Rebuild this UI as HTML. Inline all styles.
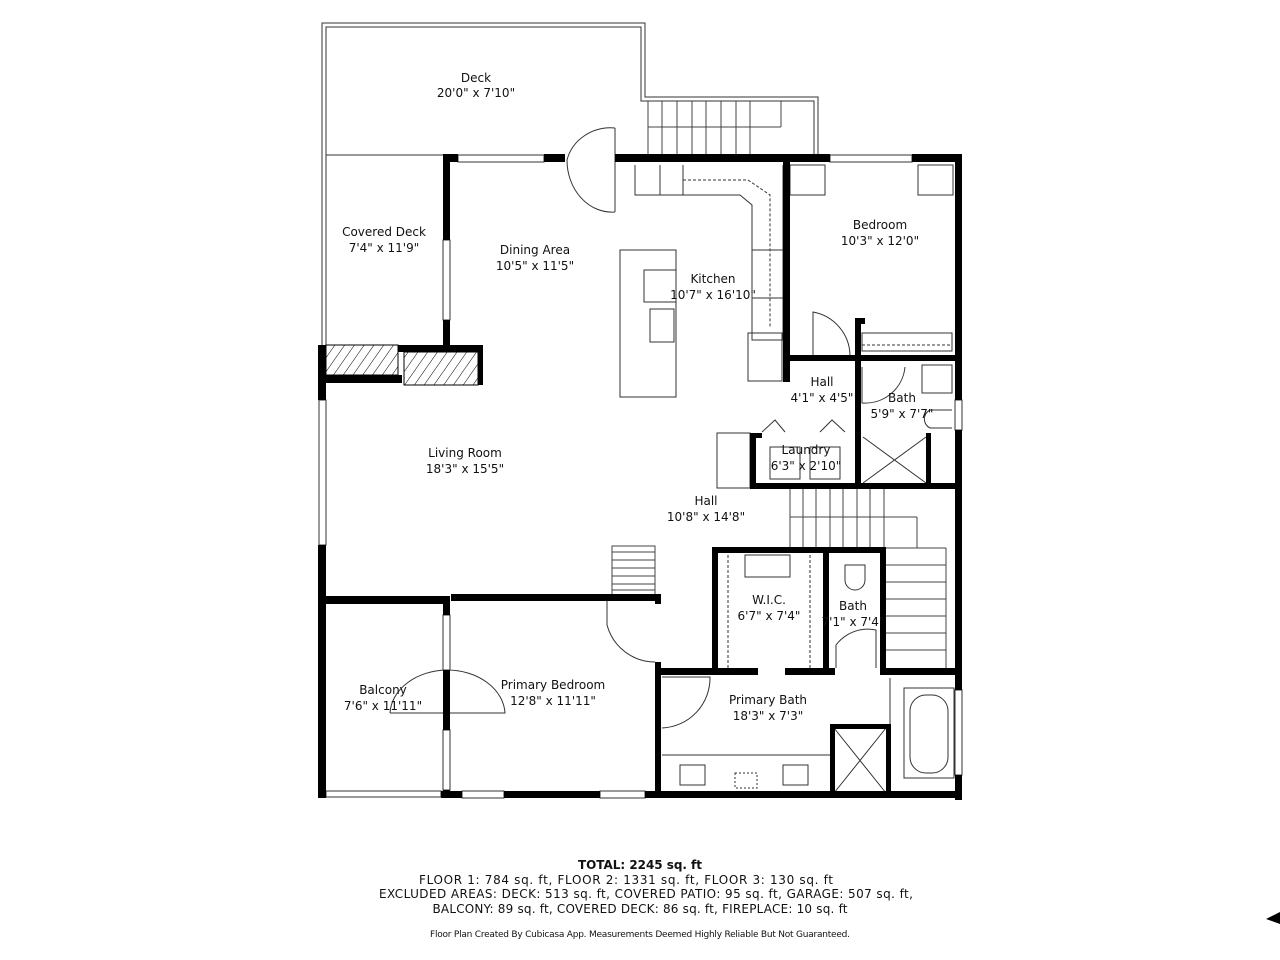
<!DOCTYPE html>
<html><head><meta charset="utf-8"><style>
html,body{margin:0;padding:0;background:#fff;}
svg{display:block}
text{font-family:"DejaVu Sans","Liberation Sans",sans-serif;font-size:12px;fill:#111;text-anchor:middle}
</style></head><body>
<svg width="1280" height="960" viewBox="0 0 1280 960" xmlns="http://www.w3.org/2000/svg">
<defs>
<pattern id="h" width="8" height="8" patternUnits="userSpaceOnUse" patternTransform="rotate(35)">
<line x1="0" y1="0" x2="0" y2="8" stroke="#000" stroke-width="1"/></pattern>
</defs>
<g fill="none" stroke="#333" stroke-width="1">
<!-- deck outline double -->
<polyline points="322,348 322,23 645,23 645,97 818,97 818,158"/>
<polyline points="326,348 326,27 641,27 641,101 814,101 814,158"/>
<line x1="326" y1="155" x2="443" y2="155"/>
<!-- deck stairs -->
<g stroke="#444">
<line x1="648" y1="101" x2="648" y2="155"/>
<line x1="662" y1="101" x2="662" y2="155"/><line x1="677" y1="101" x2="677" y2="155"/>
<line x1="692" y1="101" x2="692" y2="155"/><line x1="706" y1="101" x2="706" y2="155"/>
<line x1="721" y1="101" x2="721" y2="155"/><line x1="736" y1="101" x2="736" y2="155"/>
<line x1="750" y1="101" x2="750" y2="155"/><line x1="781" y1="101" x2="781" y2="127"/>
<line x1="648" y1="127" x2="781" y2="127"/>
</g>
<!-- deck door arc -->
<path d="M615,128 L615,212 M615,128 A45,42 0 0 0 567,160 A45,52 0 0 0 615,212"/>
<!-- kitchen counters -->
<path d="M635,165 L635,195 L740,195 L752,205 L752,340 L783,340 L783,165"/>
<line x1="660" y1="165" x2="660" y2="195"/><line x1="683" y1="165" x2="683" y2="195"/>
<path d="M683,180 L748,180 L770,195 L770,328" stroke-dasharray="3,2"/>
<rect x="752" y="250" width="32" height="48"/>
<rect x="748" y="333" width="34" height="48"/>
<!-- island -->
<rect x="620" y="250" width="56" height="147"/>
<rect x="644" y="270" width="32" height="32"/>
<rect x="650" y="309" width="24" height="33"/>
<!-- bedroom closets -->
<rect x="790" y="165" width="35" height="30"/><rect x="918" y="165" width="35" height="30"/>
<path d="M813,355 L813,312 A45,45 0 0 1 850,355"/>
<rect x="862" y="333" width="90" height="18"/>
<line x1="862" y1="345" x2="952" y2="345" stroke-dasharray="3,2"/>
<!-- bath -->
<path d="M862,367 L862,403 A40,40 0 0 0 905,367"/>
<rect x="922" y="365" width="30" height="28"/>
<path d="M952,410 L930,410 A10,10 0 0 0 930,428 L952,428"/>
<!-- laundry -->
<rect x="717" y="433" width="33" height="55"/>
<rect x="770" y="447" width="30" height="32"/><rect x="810" y="447" width="30" height="32"/>
<path d="M762,432 L775,420 L785,432 M820,432 L832,420 L845,432"/>
<!-- showers -->
<path d="M863,437 L926,483 M926,437 L863,483"/>
<path d="M834,728 L886,793 M886,728 L834,793"/>
<!-- stairs hall -->
<g stroke="#444">
<line x1="790" y1="488" x2="790" y2="548"/><line x1="803" y1="488" x2="803" y2="548"/>
<line x1="816" y1="488" x2="816" y2="548"/><line x1="830" y1="488" x2="830" y2="548"/>
<line x1="843" y1="488" x2="843" y2="548"/><line x1="857" y1="488" x2="857" y2="548"/>
<line x1="870" y1="488" x2="870" y2="548"/><line x1="884" y1="488" x2="884" y2="548"/>
<line x1="790" y1="517" x2="917" y2="517"/><line x1="917" y1="517" x2="917" y2="548"/>
<line x1="886" y1="548" x2="946" y2="548"/>
<line x1="886" y1="565" x2="946" y2="565"/><line x1="886" y1="582" x2="946" y2="582"/>
<line x1="886" y1="599" x2="946" y2="599"/><line x1="886" y1="616" x2="946" y2="616"/>
<line x1="886" y1="633" x2="946" y2="633"/><line x1="886" y1="650" x2="946" y2="650"/>
<line x1="946" y1="548" x2="946" y2="668"/>
<rect x="612" y="546" width="43" height="50"/>
<line x1="612" y1="552" x2="655" y2="552"/><line x1="612" y1="560" x2="655" y2="560"/>
<line x1="612" y1="568" x2="655" y2="568"/><line x1="612" y1="576" x2="655" y2="576"/>
<line x1="612" y1="584" x2="655" y2="584"/><line x1="612" y1="590" x2="655" y2="590"/>
</g>
<!-- WIC shelves -->
<line x1="728" y1="555" x2="728" y2="668" stroke-dasharray="3,2"/>
<line x1="810" y1="555" x2="810" y2="668" stroke-dasharray="3,2"/>
<rect x="745" y="555" width="45" height="22"/>
<path d="M845,565 L845,580 A10,10 0 0 0 865,580 L865,565 Z"/>
<path d="M836,668 L836,645 A40,40 0 0 1 876,630 L876,668"/>
<!-- primary bed door -->
<path d="M607,600 L607,625 A50,50 0 0 0 655,662"/>
<!-- balcony door -->
<path d="M390,713 A58,45 0 0 1 447,670 L447,713 L390,713 M447,713 L505,713 A58,45 0 0 0 447,670"/>
<!-- primary bath door -->
<path d="M662,677 L710,677 A50,50 0 0 1 662,728"/>
<!-- vanity -->
<line x1="662" y1="755" x2="830" y2="755"/>
<rect x="680" y="765" width="25" height="20"/><rect x="783" y="765" width="25" height="20"/>
<rect x="735" y="773" width="22" height="15" stroke-dasharray="2,2"/>
<!-- tub -->
<rect x="904" y="688" width="50" height="90"/>
<rect x="910" y="695" width="38" height="78" rx="16"/>
<line x1="890" y1="678" x2="890" y2="728"/>
<!-- windows -->
<rect x="458" y="155" width="86" height="7" fill="#fff"/><rect x="830" y="155" width="82" height="7" fill="#fff"/>
<rect x="443" y="240" width="7" height="80" fill="#fff"/><rect x="319" y="400" width="7" height="145" fill="#fff"/>
<rect x="443" y="615" width="7" height="55" fill="#fff"/><rect x="443" y="730" width="7" height="60" fill="#fff"/>
<rect x="462" y="791" width="42" height="7" fill="#fff"/><rect x="600" y="791" width="45" height="7" fill="#fff"/>
<rect x="955" y="400" width="7" height="30" fill="#fff"/><rect x="955" y="690" width="7" height="85" fill="#fff"/>
<rect x="326" y="791" width="115" height="6" fill="#fff"/>
</g>
<!-- fireplace -->
<rect x="326" y="345" width="72" height="30" fill="url(#h)" stroke="#000"/>
<rect x="404" y="352" width="74" height="33" fill="url(#h)" stroke="#000"/>
<g fill="#000">
<!-- walls -->
<rect x="615" y="154" width="170" height="8"/><rect x="443" y="154" width="15" height="8"/><rect x="544" y="154" width="21" height="8"/>
<rect x="783" y="154" width="47" height="8"/><rect x="912" y="154" width="50" height="8"/>
<rect x="955" y="154" width="7" height="246"/><rect x="955" y="430" width="7" height="260"/><rect x="955" y="775" width="7" height="25"/>
<rect x="318" y="791" width="8" height="7"/><rect x="441" y="791" width="21" height="7"/><rect x="504" y="791" width="96" height="7"/><rect x="645" y="791" width="317" height="7"/>
<rect x="443" y="154" width="7" height="86"/><rect x="443" y="320" width="7" height="25"/>
<rect x="318" y="345" width="8" height="55"/><rect x="318" y="545" width="8" height="253"/>
<rect x="318" y="375" width="84" height="8"/><rect x="398" y="345" width="84" height="7"/><rect x="478" y="345" width="5" height="40"/>
<rect x="318" y="596" width="126" height="8"/><rect x="451" y="594" width="210" height="7"/>
<rect x="443" y="596" width="7" height="19"/><rect x="443" y="670" width="7" height="60"/><rect x="443" y="790" width="7" height="8"/>
<rect x="655" y="594" width="6" height="10"/><rect x="655" y="662" width="6" height="136"/>
<rect x="783" y="154" width="7" height="228"/><rect x="788" y="355" width="170" height="6"/>
<rect x="855" y="318" width="6" height="167"/><rect x="855" y="318" width="10" height="6"/>
<rect x="926" y="433" width="5" height="55"/>
<rect x="750" y="433" width="6" height="55"/><rect x="750" y="483" width="212" height="6"/><rect x="750" y="433" width="12" height="5"/>
<rect x="712" y="547" width="174" height="6"/><rect x="712" y="547" width="6" height="128"/><rect x="823" y="550" width="6" height="125"/><rect x="880" y="547" width="6" height="128"/>
<rect x="658" y="668" width="100" height="7"/><rect x="785" y="668" width="50" height="7"/><rect x="885" y="668" width="77" height="7"/>
<rect x="830" y="724" width="60" height="5"/><rect x="830" y="724" width="5" height="74"/><rect x="886" y="724" width="5" height="74"/>
</g>
<!-- labels -->
<text x="476" y="82">Deck</text><text x="476" y="97">20'0" x 7'10"</text>
<text x="384" y="236">Covered Deck</text><text x="384" y="252">7'4" x 11'9"</text>
<text x="535" y="254">Dining Area</text><text x="535" y="270">10'5" x 11'5"</text>
<text x="713" y="283">Kitchen</text><text x="713" y="299">10'7" x 16'10"</text>
<text x="880" y="229">Bedroom</text><text x="880" y="245">10'3" x 12'0"</text>
<text x="822" y="386">Hall</text><text x="822" y="402">4'1" x 4'5"</text>
<text x="902" y="402">Bath</text><text x="902" y="418">5'9" x 7'7"</text>
<text x="806" y="454">Laundry</text><text x="806" y="470">6'3" x 2'10"</text>
<text x="465" y="457">Living Room</text><text x="465" y="473">18'3" x 15'5"</text>
<text x="706" y="505">Hall</text><text x="706" y="521">10'8" x 14'8"</text>
<text x="769" y="604">W.I.C.</text><text x="769" y="620">6'7" x 7'4"</text>
<text x="853" y="610">Bath</text><text x="853" y="626">7'1" x 7'4"</text>
<text x="383" y="694">Balcony</text><text x="383" y="710">7'6" x 11'11"</text>
<text x="553" y="689">Primary Bedroom</text><text x="553" y="705">12'8" x 11'11"</text>
<text x="768" y="704">Primary Bath</text><text x="768" y="720">18'3" x 7'3"</text>
<text x="640" y="869" font-weight="bold" textLength="124">TOTAL: 2245 sq. ft</text>
<text x="626" y="884" textLength="414">FLOOR 1: 784 sq. ft, FLOOR 2: 1331 sq. ft, FLOOR 3: 130 sq. ft</text>
<text x="646" y="898" textLength="534">EXCLUDED AREAS: DECK: 513 sq. ft, COVERED PATIO: 95 sq. ft, GARAGE: 507 sq. ft,</text>
<text x="640" y="913" textLength="415">BALCONY: 89 sq. ft, COVERED DECK: 86 sq. ft, FIREPLACE: 10 sq. ft</text>
<text x="640" y="937" style="font-size:9px" textLength="420">Floor Plan Created By Cubicasa App. Measurements Deemed Highly Reliable But Not Guaranteed.</text>
<polygon points="1280,912 1266,919 1280,924" fill="#000"/>
</svg>
</body></html>
